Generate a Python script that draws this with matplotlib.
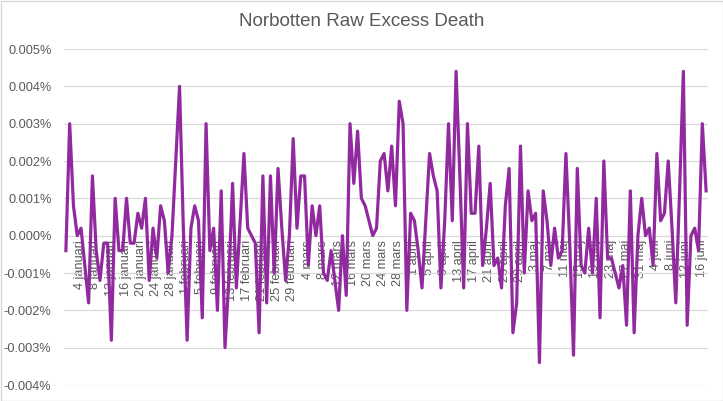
import matplotlib
matplotlib.use("Agg")
import matplotlib.pyplot as plt
import matplotlib.transforms as mtransforms
from matplotlib.patches import Rectangle

# Raw excess death, percent of population, daily from 1 januari to 18 juni
values = [
    -0.0004, 0.0030, 0.0008, 0.0000, 0.0002, -0.0008, -0.0018, 0.0016, -0.0004, -0.0012,
    -0.0002, -0.0002, -0.0028, 0.0010, -0.0004, -0.0004, 0.0010, -0.0002, -0.0002, 0.0006,
    0.0002, 0.0010, -0.0012, 0.0002, -0.0006, 0.0008, 0.0004, -0.0010, 0.0000, 0.0020,
    0.0040, 0.0002, -0.0028, 0.0002, 0.0008, 0.0004, -0.0022, 0.0030, -0.0004, 0.0002,
    -0.0020, 0.0012, -0.0030, -0.0012, 0.0014, -0.0014, 0.0004, 0.0022, 0.0002, 0.0000,
    -0.0002, -0.0026, 0.0016, -0.0018, 0.0016, -0.0010, 0.0018, 0.0002, -0.0012, 0.0000,
    0.0026, 0.0002, 0.0016, 0.0016, -0.0008, 0.0008, 0.0000, 0.0008, -0.0010, -0.0012,
    -0.0004, -0.0012, -0.0020, 0.0000, -0.0016, 0.0030, 0.0014, 0.0028, 0.0010, 0.0008,
    0.0004, 0.0000, 0.0002, 0.0020, 0.0022, 0.0012, 0.0024, 0.0008, 0.0036, 0.0030,
    -0.0020, 0.0006, 0.0004, -0.0004, -0.0014, 0.0004, 0.0022, 0.0016, 0.0012, -0.0014,
    0.0004, 0.0030, 0.0004, 0.0044, 0.0016, -0.0014, 0.0030, 0.0006, 0.0006, 0.0024,
    -0.0008, 0.0002, 0.0014, -0.0008, -0.0006, -0.0014, 0.0008, 0.0018, -0.0026, -0.0018,
    0.0024, -0.0010, 0.0012, 0.0004, 0.0006, -0.0034, 0.0012, 0.0004, -0.0008, 0.0002,
    -0.0006, -0.0004, 0.0022, -0.0002, -0.0032, 0.0018, -0.0008, -0.0010, 0.0002, -0.0010,
    0.0010, -0.0022, 0.0020, -0.0006, -0.0006, -0.0010, -0.0014, -0.0008, -0.0024, 0.0012,
    -0.0026, 0.0000, 0.0010, 0.0000, 0.0002, -0.0008, 0.0022, 0.0004, 0.0006, 0.0020,
    0.0002, -0.0018, 0.0012, 0.0044, -0.0024, 0.0000, 0.0002, -0.0004, 0.0030, 0.0012,
]

tick_labels = [
    "4 januari", "8 januari", "12 januari", "16 januari", "20 januari", "24 januari",
    "28 januari", "1 februari", "5 februari", "9 februari", "13 februari", "17 februari",
    "21 februari", "25 februari", "29 februari", "4 mars", "8 mars", "12 mars", "16 mars",
    "20 mars", "24 mars", "28 mars", "1 april", "5 april", "9 april", "13 april",
    "17 april", "21 april", "25 april", "29 april", "3 maj", "7 maj", "11 maj", "15 maj",
    "19 maj", "23 maj", "27 maj", "31 maj", "4 juni", "8 juni", "12 juni", "16 juni",
]

y_ticks = [-0.004, -0.003, -0.002, -0.001, 0.0, 0.001, 0.002, 0.003, 0.004, 0.005]

title = "Norbotten Raw Excess Death"

text_color = "#595959"
grid_color = "#d9d9d9"
line_color = "#912a9f"
font = "Liberation Sans"

fig = plt.figure(figsize=(7.23, 4.01), dpi=100)
ax = fig.add_axes([64 / 723, 1 - 385 / 401, (708 - 64) / 723, (385 - 49) / 401])

# place the category axis on the zero line first (this resets tick settings)
ax.spines["bottom"].set_position(("data", 0))
for s in ax.spines.values():
    s.set_visible(False)

x = list(range(len(values)))
ax.plot(x, values, color=line_color, linewidth=2.3, solid_joinstyle="round", zorder=3)

ax.set_xlim(-0.5, len(values) - 0.5)
ax.set_ylim(y_ticks[0], y_ticks[-1])
ax.set_yticks(y_ticks)
ax.set_yticklabels([f"{v:.3f}%" for v in y_ticks], fontsize=9.2, color=text_color,
                   family=font)
ax.yaxis.grid(True, color=grid_color, linewidth=0.9)
ax.set_axisbelow(True)

tick_pos = list(range(3, len(values), 4))[:len(tick_labels)]
ax.set_xticks(tick_pos)
ax.set_xticklabels(tick_labels, rotation=90, fontsize=9.2, color=text_color, family=font,
                   ha="center", va="top")
ax.tick_params(axis="both", length=0)
ax.tick_params(axis="x", pad=3)
ax.tick_params(axis="y", pad=9)

offset = mtransforms.ScaledTranslation(3 / 100, 0, fig.dpi_scale_trans)
for lab in ax.get_xticklabels():
    lab.set_transform(lab.get_transform() + offset)

fig.text(0.5, 1 - 22 / 401, title, ha="center", va="center", fontsize=13.5,
         color=text_color, family=font)

fig.patches.append(Rectangle((0.5 / 723, 0.5 / 401), 1 - 1 / 723, 1 - 1 / 401,
                             transform=fig.transFigure, fill=False,
                             edgecolor=grid_color, linewidth=1))

fig.savefig("out.png", dpi=100)
